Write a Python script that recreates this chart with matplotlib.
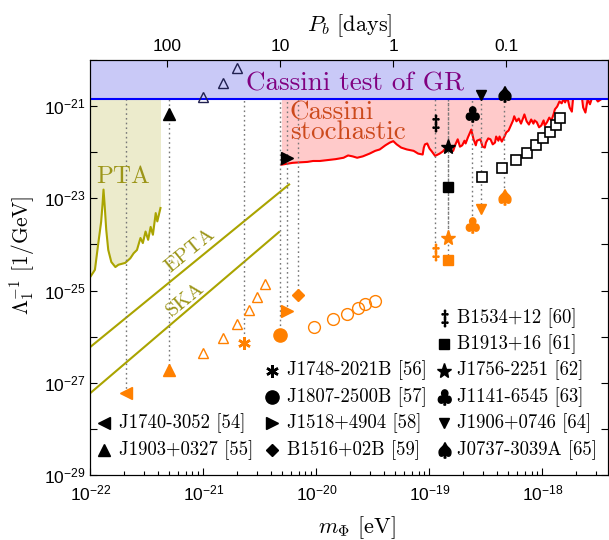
import numpy as np
import matplotlib
matplotlib.use('Agg')
import matplotlib.pyplot as plt
from matplotlib.textpath import TextPath
from matplotlib.font_manager import FontProperties
from matplotlib.path import Path
from matplotlib.ticker import FixedLocator, FixedFormatter, FuncFormatter, NullFormatter, NullLocator

plt.rcParams['font.family'] = 'Liberation Sans'
plt.rcParams['mathtext.fontset'] = 'custom'
plt.rcParams['mathtext.rm'] = 'Liberation Sans'
plt.rcParams['mathtext.it'] = 'Liberation Sans:italic'
plt.rcParams['mathtext.bf'] = 'Liberation Sans:bold'

## limites e bound do Cassini
m_lim = (1e-22, 3.8e-18)
lam_lim = (1e-29, 1e-20)
cassini = 1.44e-21

## pulsares: massa m_Phi [eV], limite (preto), projecao (laranja)
pulsars = ['J1740-3052', 'J1903+0327', 'J1748-2021B', 'J1807-2500B', 'J1518+4904', 'B1516+02B',
           'B1534+12', 'B1913+16', 'J1756-2251', 'J1141-6545', 'J1906+0746', 'J0737-3039A']
refs = [54, 55, 56, 57, 58, 59, 60, 61, 62, 63, 64, 65]
m_psr = [2.07e-22, 4.97e-22, 2.29e-21, 4.76e-21, 5.49e-21, 6.88e-21,
         1.12e-19, 1.46e-19, 1.46e-19, 2.38e-19, 2.86e-19, 4.57e-19]
lam_psr = [np.nan, 6.6e-22, np.nan, np.nan, 7.6e-23, np.nan,
           4.2e-22, 1.8e-23, 1.3e-22, 6.6e-22, 1.7e-21, 1.8e-21]
lam_proj = [6.0e-28, 1.9e-27, 7.2e-27, 1.1e-26, 3.6e-26, 8.1e-26,
            6.9e-25, 4.7e-25, 1.4e-24, 2.6e-24, 6.0e-24, 1.05e-23]

## triangulos abertos
tri_m = [9.9e-22, 1.49e-21, 1.98e-21, 2.54e-21, 2.99e-21, 3.52e-21]
tri_lam = [4.5e-27, 9.3e-27, 1.9e-26, 3.8e-26, 7.2e-26, 1.4e-25]
tri_top_m = [9.9e-22, 1.49e-21, 1.98e-21]
tri_top_lam = [1.6e-21, 3.2e-21, 6.8e-21]

## circulos abertos
circ_m = [9.6e-21, 1.41e-20, 1.87e-20, 2.32e-20, 2.69e-20, 3.30e-20]
circ_lam = [1.6e-26, 2.4e-26, 3.1e-26, 4.2e-26, 5.1e-26, 5.8e-26]

## quadrados abertos
sq_m = [2.90e-19, 4.36e-19, 5.83e-19, 7.26e-19, 8.73e-19, 1.02e-18, 1.17e-18, 1.32e-18, 1.43e-18]
sq_lam = [2.9e-23, 4.6e-23, 6.8e-23, 9.7e-23, 1.4e-22, 2.0e-22, 2.8e-22, 3.9e-22, 5.4e-22]

## curva PTA (log10)
pta_logm = [-22.00, -21.96, -21.932, -21.905, -21.893, -21.884, -21.873, -21.86, -21.842, -21.815,
            -21.779, -21.752, -21.692, -21.647, -21.617, -21.588, -21.557, -21.536, -21.512, -21.489,
            -21.467, -21.447, -21.422, -21.408, -21.38]
pta_loglam = [-24.70, -24.55, -24.01, -23.51, -23.14, -22.81, -23.18, -23.68, -24.12, -24.38,
              -24.49, -24.44, -24.40, -24.30, -24.19, -24.12, -23.86, -23.97, -23.72, -23.90,
              -23.62, -23.79, -23.32, -23.50, -23.21]

## EPTA e SKA
epta_m = [1e-22, 5.73e-21]
epta_lam = [6.0e-27, 2.0e-23]
ska_m = [1e-22, 4.67e-21]
ska_lam = [6.0e-28, 1.86e-24]

## curva Cassini estocastico (log10)
red_logm = [-20.31, -20.26, -20.21, -20.15, -20.08, -20.03, -19.97, -19.90, -19.83, -19.76,
            -19.72, -19.68, -19.64, -19.59, -19.53, -19.48, -19.44, -19.39, -19.35, -19.32,
            -19.29, -19.25, -19.20, -19.14, -19.10, -19.06, -19.05, -19.04, -19.02, -19.00,
            -18.98, -18.95, -18.91, -18.88, -18.86, -18.83, -18.81, -18.79, -18.77, -18.75,
            -18.73, -18.71, -18.69, -18.68, -18.66, -18.63, -18.61, -18.59, -18.58, -18.55,
            -18.53, -18.51, -18.50, -18.48, -18.46, -18.44, -18.42, -18.41, -18.39, -18.38,
            -18.36, -18.34, -18.32, -18.30, -18.28, -18.26, -18.25, -18.23, -18.21, -18.19,
            -18.17, -18.16, -18.14, -18.12, -18.10, -18.08, -18.07, -18.05, -18.03, -18.01,
            -17.99, -17.98, -17.96, -17.94, -17.92, -17.90, -17.89, -17.87, -17.85, -17.83,
            -17.81, -17.80, -17.78, -17.76, -17.74, -17.73, -17.72, -17.70, -17.67, -17.65,
            -17.64, -17.62, -17.60, -17.58, -17.56, -17.54, -17.51, -17.48, -17.46, -17.42]
red_loglam = [-22.27, -22.25, -22.23, -22.22, -22.21, -22.19, -22.19, -22.17, -22.15, -22.12,
              -22.07, -22.09, -22.12, -22.09, -22.03, -21.97, -21.94, -21.85, -21.79, -21.76,
              -21.83, -21.90, -21.94, -21.97, -22.03, -22.05, -21.90, -21.83, -21.81, -21.92,
              -21.98, -22.08, -22.03, -21.98, -21.92, -21.93, -21.98, -21.97, -21.83, -21.72,
              -21.88, -21.85, -21.75, -21.81, -21.68, -21.51, -21.72, -21.85, -21.75, -21.72,
              -21.88, -21.90, -21.79, -21.70, -21.72, -21.83, -21.79, -21.66, -21.75, -21.66,
              -21.77, -21.68, -21.57, -21.53, -21.42, -21.31, -21.22, -21.33, -21.27, -21.38,
              -21.25, -21.18, -21.33, -21.40, -21.29, -21.38, -21.31, -21.35, -21.46, -21.42,
              -21.31, -21.42, -21.35, -21.25, -21.31, -21.16, -21.07, -21.01, -20.90, -20.94,
              -20.83, -20.92, -20.81, -21.03, -21.12, -20.85, -20.81, -20.77, -20.79, -20.83,
              -21.03, -21.14, -20.85, -20.96, -20.81, -20.79, -20.90, -20.85, -20.77, -20.77]

## eixo superior P_b [dias]
pb_ticks = [100, 10, 1, 0.1]
pb_labels = ['100', '10', '1', '0.1']

orange = '#ff8000'
olive = '#aaa400'
hbar = 6.582e-16
day = 86400.0

cmfp = FontProperties(family='cmr10', math_fontfamily='cm')


def glyph(s):
    tp = TextPath((0, 0), s, prop=cmfp)
    v = tp.vertices
    c = (v.min(0) + v.max(0)) / 2
    return Path(v - c, tp.codes)


markers = ['<', '^', (6, 2, 0), 'o', '>', 'D', glyph(r'$\ddag$'), 's', '*',
           glyph(r'$\clubsuit$'), 'v', glyph(r'$\spadesuit$')]
msizes = [8, 8, 9, 9.5, 8, 6, 12, 6.7, 11, 11, 7.5, 11]

fig = plt.figure(figsize=(6.09, 5.40), dpi=100)
ax = fig.add_axes([90.4 / 609, 1 - 475 / 540, 517.6 / 609, 415 / 540])
ax.set_xscale('log')
ax.set_yscale('log')
ax.set_xlim(m_lim)
ax.set_ylim(lam_lim)

# regioes
pta_m = 10 ** np.array(pta_logm)
pta_lam = 10 ** np.array(pta_loglam)
red_m = 10 ** np.array(red_logm)
red_lam = 10 ** np.array(red_loglam)
ax.fill_between(pta_m, pta_lam, cassini, color='#ecebcc', lw=0, zorder=1)
ax.fill_between(red_m, red_lam, cassini, color='#ffcaca', lw=0, zorder=1)
ax.plot(pta_m, pta_lam, color=olive, lw=1.5, zorder=2)
ax.plot(red_m, red_lam, color='red', lw=1.5, zorder=2)
ax.plot(epta_m, epta_lam, color=olive, lw=1.5, zorder=2)
ax.plot(ska_m, ska_lam, color=olive, lw=1.5, zorder=2)
ax.axhspan(cassini, lam_lim[1], color='#c9c9f7', lw=0, zorder=2.5)
ax.axhline(cassini, color='#0000ff', lw=1.5, zorder=2.6)

# linhas pontilhadas
ax.vlines(m_psr, lam_proj, cassini, colors='#777777', linestyles=(0, (1.2, 2.2)), lw=1, zorder=2.2)

# pontos
for i in range(len(pulsars)):
    mew = 1.8 if i == 2 else 1
    ax.plot(m_psr[i], lam_psr[i], marker=markers[i], ms=msizes[i], color='k', mew=mew, ls='none', zorder=5)
    ax.plot(m_psr[i], lam_proj[i], marker=markers[i], ms=msizes[i], color=orange, mew=mew, ls='none', zorder=5)

ax.plot(tri_m, tri_lam, '^', ms=7.5, mfc='none', mec=orange, mew=1, ls='none', zorder=4)
ax.plot(tri_top_m, tri_top_lam, '^', ms=7.5, mfc='none', mec='#202050', mew=1, ls='none', zorder=4)
ax.plot(circ_m, circ_lam, 'o', ms=8.5, mfc='none', mec=orange, mew=1, ls='none', zorder=4)
ax.plot(sq_m, sq_lam, 's', ms=6.8, mfc='white', mec='k', mew=1.2, ls='none', zorder=4)

# textos
ax.text(10 ** -19.66, 10 ** -20.67, 'Cassini test of GR', family='cmr10', fontsize=19.5,
        color='#800080', ha='center', va='baseline', zorder=6)
ax.text(10 ** -20.234, 10 ** -21.72, 'Cassini\nstochastic', family='cmr10', fontsize=19.5,
        color='#cc4a1c', ha='left', va='baseline', linespacing=0.8, zorder=3)
ax.text(10 ** -21.711, 10 ** -22.66, 'PTA', family='cmr10', fontsize=18,
        color='#9c9518', ha='center', va='baseline', zorder=3)
ax.text(10 ** -21.119, 10 ** -24.13, 'EPTA', family='cmr10', fontsize=15, rotation=39.2,
        rotation_mode='anchor', color='#9c9518', ha='center', va='center', zorder=3)
ax.text(10 ** -21.154, 10 ** -25.20, 'SKA', family='cmr10', fontsize=15, rotation=39.2,
        rotation_mode='anchor', color='#9c9518', ha='center', va='center', zorder=3)

# legenda
leg_col = [0, 0, 1, 1, 1, 1, 2, 2, 2, 2, 2, 2]
leg_row = [4, 5, 2, 3, 4, 5, 0, 1, 2, 3, 4, 5]
col_mk = [0.0263, 0.351, 0.683]
col_tx = [0.0553, 0.380, 0.708]
for i in range(len(pulsars)):
    yy = 0.379 - leg_row[i] * 0.0637
    mew = 1.8 if i == 2 else 1
    ax.plot(col_mk[leg_col[i]], yy, marker=markers[i], ms=msizes[i], color='k', mew=mew,
            transform=ax.transAxes, clip_on=False, zorder=6)
    ax.text(col_tx[leg_col[i]], yy, f'{pulsars[i]} [{refs[i]}]', family='cmr10', fontsize=13.5,
            transform=ax.transAxes, ha='left', va='center', zorder=6)

# eixos
decades = 10.0 ** np.arange(-22, -17)
ax.xaxis.set_major_locator(FixedLocator(decades))
ax.xaxis.set_minor_locator(FixedLocator([d * k for d in decades for k in range(2, 10) if d * k < m_lim[1]]))
ax.xaxis.set_minor_formatter(NullFormatter())
ax.yaxis.set_major_locator(FixedLocator(10.0 ** np.arange(-29, -19)))
ax.yaxis.set_minor_locator(NullLocator())
ax.yaxis.set_major_formatter(FuncFormatter(
    lambda v, p: rf'$10^{{{int(round(np.log10(v)))}}}$' if int(round(np.log10(v))) % 2 else ''))
ax.tick_params(which='both', direction='in', top=False, right=True, labelsize=12.5)
ax.tick_params(which='major', length=5, width=0.8)
ax.tick_params(which='minor', length=3, width=0.8)
ax.tick_params(axis='x', pad=6)

ax2 = ax.twiny()
ax2.set_xscale('log')
ax2.set_xlim(m_lim)
ax2.xaxis.set_major_locator(FixedLocator(2 * np.pi * hbar / (np.array(pb_ticks) * day)))
ax2.xaxis.set_major_formatter(FixedFormatter(pb_labels))
ax2.xaxis.set_minor_locator(NullLocator())
ax2.tick_params(direction='in', length=5, width=0.8, labelsize=12.5, pad=4)

ax.set_xlabel(r'$m_\Phi$ [eV]', family='cmr10', math_fontfamily='cm', fontsize=16, labelpad=6)
ax.xaxis.set_label_coords(0.515, -0.095)
ax.set_ylabel(r'$\Lambda_1^{-1}$ [1/GeV]', family='cmr10', math_fontfamily='cm', fontsize=15.5)
ax.yaxis.set_label_coords(-0.103, 0.53)
ax2.set_xlabel(r'$P_b$ [days]', family='cmr10', math_fontfamily='cm', fontsize=16, labelpad=6)

fig.savefig('out.png', dpi=100)
